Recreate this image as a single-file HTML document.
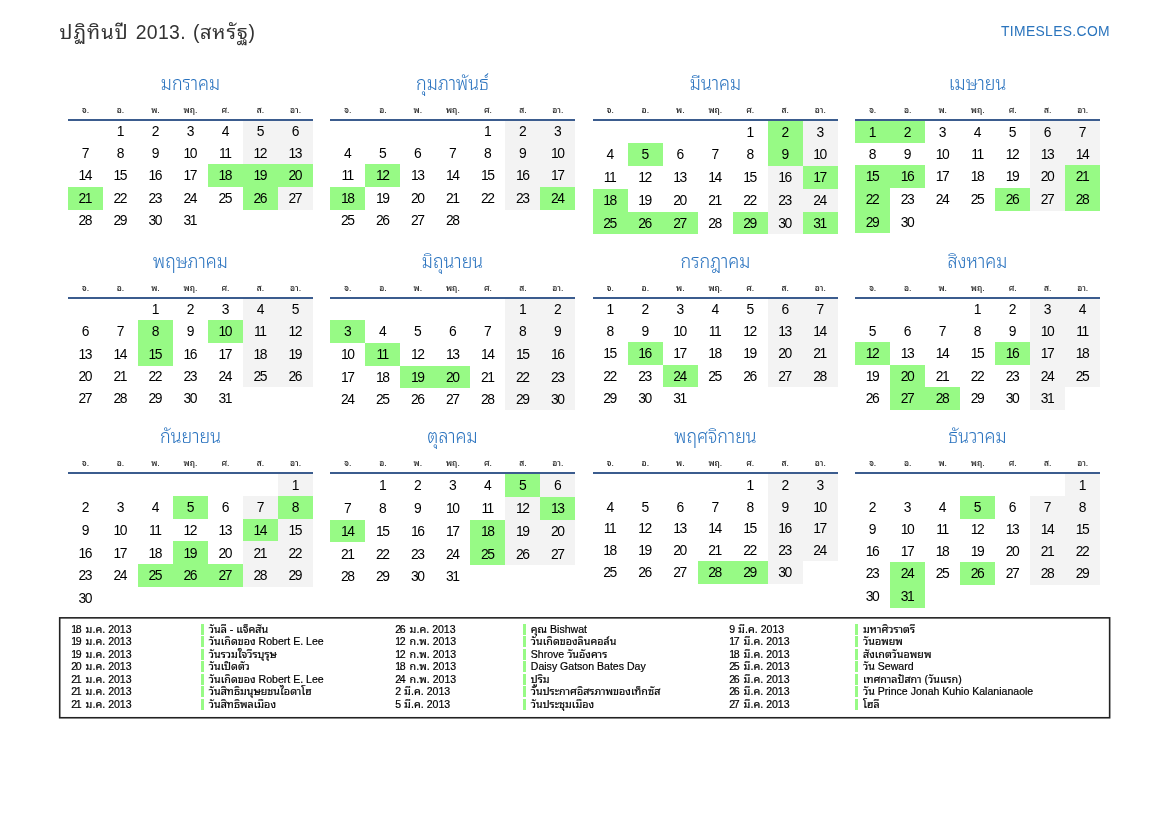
<!DOCTYPE html><html lang="th"><head><meta charset="utf-8"><title>ปฏิทินปี 2013 (สหรัฐ)</title><style>
*{margin:0;padding:0;box-sizing:border-box}
html,body{width:1169px;height:827px;background:#fff;overflow:hidden}
body{position:relative;font-family:"Liberation Sans","Noto Sans Thai Looped","Loma",sans-serif;color:#000}
.abs{position:absolute}
.t{font-weight:300}
#title{left:59.6px;top:17.8px;font-size:19.44px;line-height:28px;color:#333;white-space:nowrap;letter-spacing:.35px;word-spacing:1.3px}
#title .t{font-size:20px;letter-spacing:1.0px;line-height:0;font-weight:400}
#site{right:59px;top:23px;font-size:13.89px;line-height:16px;color:#2a74bd;letter-spacing:.35px;white-space:nowrap}
.mt{width:245px;text-align:center;font-size:20px;line-height:30px;height:30px;color:#2771be;white-space:nowrap;font-weight:340;transform:scaleX(.895)}
.wd{width:35px;text-align:center;font-size:8.6px;line-height:12px;height:12px;color:#222;white-space:nowrap;font-weight:500}
.ln{height:2px;width:245px;background:#3b5c8e}
.d{width:35px;text-align:center;font-size:13.89px;letter-spacing:-1.5px;text-indent:-1.5px;color:#000}
.we{background:#f3f3f3}
.h{background:#97fa85}
#box{left:59px;top:617px;width:1051.5px;height:101.6px;border:1.5px solid #222}
.ev{font-size:10.55px;line-height:12.47px;height:12.47px;white-space:nowrap;color:#000;-webkit-text-stroke:.2px #000}
.ev .t{font-size:10.75px;font-weight:400;line-height:0}
.ev .n{letter-spacing:-1.5px;margin-right:2.6px}
.bar{width:3px;height:11.3px;background:#97fa85}
</style></head><body>
<div id="title" class="abs"><span class="t">ปฏิทินปี</span> 2013. (<span class="t" style="letter-spacing:.9px">สหรัฐ</span>)</div>
<div id="site" class="abs">TIMESLES.COM</div>
<div class="abs mt" style="left:68px;top:67.8px">มกราคม</div>
<div class="abs wd" style="left:68.0px;top:104.0px">จ.</div>
<div class="abs wd" style="left:103.0px;top:104.0px">อ.</div>
<div class="abs wd" style="left:138.0px;top:104.0px">พ.</div>
<div class="abs wd" style="left:173.0px;top:104.0px">พฤ.</div>
<div class="abs wd" style="left:208.0px;top:104.0px">ศ.</div>
<div class="abs wd" style="left:243.0px;top:104.0px">ส.</div>
<div class="abs wd" style="left:278.0px;top:104.0px">อา.</div>
<div class="d abs" style="left:103.0px;top:120px;height:22px;line-height:23.3px">1</div>
<div class="d abs" style="left:138.0px;top:120px;height:22px;line-height:23.3px">2</div>
<div class="d abs" style="left:173.0px;top:120px;height:22px;line-height:23.3px">3</div>
<div class="d abs" style="left:208.0px;top:120px;height:22px;line-height:23.3px">4</div>
<div class="d abs we" style="left:243.0px;top:120px;height:22px;line-height:23.3px">5</div>
<div class="d abs we" style="left:278.0px;top:120px;height:22px;line-height:23.3px">6</div>
<div class="d abs" style="left:68.0px;top:142px;height:22px;line-height:22.9px">7</div>
<div class="d abs" style="left:103.0px;top:142px;height:22px;line-height:22.9px">8</div>
<div class="d abs" style="left:138.0px;top:142px;height:22px;line-height:22.9px">9</div>
<div class="d abs" style="left:173.0px;top:142px;height:22px;line-height:22.9px">10</div>
<div class="d abs" style="left:208.0px;top:142px;height:22px;line-height:22.9px">11</div>
<div class="d abs we" style="left:243.0px;top:142px;height:22px;line-height:22.9px">12</div>
<div class="d abs we" style="left:278.0px;top:142px;height:22px;line-height:22.9px">13</div>
<div class="d abs" style="left:68.0px;top:164px;height:23px;line-height:23.5px">14</div>
<div class="d abs" style="left:103.0px;top:164px;height:23px;line-height:23.5px">15</div>
<div class="d abs" style="left:138.0px;top:164px;height:23px;line-height:23.5px">16</div>
<div class="d abs" style="left:173.0px;top:164px;height:23px;line-height:23.5px">17</div>
<div class="d abs h" style="left:208.0px;top:164px;height:23px;line-height:23.5px">18</div>
<div class="d abs h" style="left:243.0px;top:164px;height:23px;line-height:23.5px">19</div>
<div class="d abs h" style="left:278.0px;top:164px;height:23px;line-height:23.5px">20</div>
<div class="d abs h" style="left:68.0px;top:187px;height:23px;line-height:23.0px">21</div>
<div class="d abs" style="left:103.0px;top:187px;height:23px;line-height:23.0px">22</div>
<div class="d abs" style="left:138.0px;top:187px;height:23px;line-height:23.0px">23</div>
<div class="d abs" style="left:173.0px;top:187px;height:23px;line-height:23.0px">24</div>
<div class="d abs" style="left:208.0px;top:187px;height:23px;line-height:23.0px">25</div>
<div class="d abs h" style="left:243.0px;top:187px;height:23px;line-height:23.0px">26</div>
<div class="d abs we" style="left:278.0px;top:187px;height:23px;line-height:23.0px">27</div>
<div class="d abs" style="left:68.0px;top:210px;height:21px;line-height:21.5px">28</div>
<div class="d abs" style="left:103.0px;top:210px;height:21px;line-height:21.5px">29</div>
<div class="d abs" style="left:138.0px;top:210px;height:21px;line-height:21.5px">30</div>
<div class="d abs" style="left:173.0px;top:210px;height:21px;line-height:21.5px">31</div>
<div class="abs ln" style="left:68px;top:119px"></div>
<div class="abs mt" style="left:330.4px;top:67.8px">กุมภาพันธ์</div>
<div class="abs wd" style="left:330.4px;top:104.0px">จ.</div>
<div class="abs wd" style="left:365.4px;top:104.0px">อ.</div>
<div class="abs wd" style="left:400.4px;top:104.0px">พ.</div>
<div class="abs wd" style="left:435.4px;top:104.0px">พฤ.</div>
<div class="abs wd" style="left:470.4px;top:104.0px">ศ.</div>
<div class="abs wd" style="left:505.4px;top:104.0px">ส.</div>
<div class="abs wd" style="left:540.4px;top:104.0px">อา.</div>
<div class="d abs" style="left:470.4px;top:120px;height:22px;line-height:23.3px">1</div>
<div class="d abs we" style="left:505.4px;top:120px;height:22px;line-height:23.3px">2</div>
<div class="d abs we" style="left:540.4px;top:120px;height:22px;line-height:23.3px">3</div>
<div class="d abs" style="left:330.4px;top:142px;height:22px;line-height:22.9px">4</div>
<div class="d abs" style="left:365.4px;top:142px;height:22px;line-height:22.9px">5</div>
<div class="d abs" style="left:400.4px;top:142px;height:22px;line-height:22.9px">6</div>
<div class="d abs" style="left:435.4px;top:142px;height:22px;line-height:22.9px">7</div>
<div class="d abs" style="left:470.4px;top:142px;height:22px;line-height:22.9px">8</div>
<div class="d abs we" style="left:505.4px;top:142px;height:22px;line-height:22.9px">9</div>
<div class="d abs we" style="left:540.4px;top:142px;height:22px;line-height:22.9px">10</div>
<div class="d abs" style="left:330.4px;top:164px;height:23px;line-height:23.5px">11</div>
<div class="d abs h" style="left:365.4px;top:164px;height:23px;line-height:23.5px">12</div>
<div class="d abs" style="left:400.4px;top:164px;height:23px;line-height:23.5px">13</div>
<div class="d abs" style="left:435.4px;top:164px;height:23px;line-height:23.5px">14</div>
<div class="d abs" style="left:470.4px;top:164px;height:23px;line-height:23.5px">15</div>
<div class="d abs we" style="left:505.4px;top:164px;height:23px;line-height:23.5px">16</div>
<div class="d abs we" style="left:540.4px;top:164px;height:23px;line-height:23.5px">17</div>
<div class="d abs h" style="left:330.4px;top:187px;height:23px;line-height:23.0px">18</div>
<div class="d abs" style="left:365.4px;top:187px;height:23px;line-height:23.0px">19</div>
<div class="d abs" style="left:400.4px;top:187px;height:23px;line-height:23.0px">20</div>
<div class="d abs" style="left:435.4px;top:187px;height:23px;line-height:23.0px">21</div>
<div class="d abs" style="left:470.4px;top:187px;height:23px;line-height:23.0px">22</div>
<div class="d abs we" style="left:505.4px;top:187px;height:23px;line-height:23.0px">23</div>
<div class="d abs h" style="left:540.4px;top:187px;height:23px;line-height:23.0px">24</div>
<div class="d abs" style="left:330.4px;top:210px;height:21px;line-height:21.5px">25</div>
<div class="d abs" style="left:365.4px;top:210px;height:21px;line-height:21.5px">26</div>
<div class="d abs" style="left:400.4px;top:210px;height:21px;line-height:21.5px">27</div>
<div class="d abs" style="left:435.4px;top:210px;height:21px;line-height:21.5px">28</div>
<div class="abs ln" style="left:330.4px;top:119px"></div>
<div class="abs mt" style="left:592.8px;top:67.8px">มีนาคม</div>
<div class="abs wd" style="left:592.8px;top:104.0px">จ.</div>
<div class="abs wd" style="left:627.8px;top:104.0px">อ.</div>
<div class="abs wd" style="left:662.8px;top:104.0px">พ.</div>
<div class="abs wd" style="left:697.8px;top:104.0px">พฤ.</div>
<div class="abs wd" style="left:732.8px;top:104.0px">ศ.</div>
<div class="abs wd" style="left:767.8px;top:104.0px">ส.</div>
<div class="abs wd" style="left:802.8px;top:104.0px">อา.</div>
<div class="d abs" style="left:732.8px;top:120px;height:23px;line-height:24.2px">1</div>
<div class="d abs h" style="left:767.8px;top:120px;height:23px;line-height:24.2px">2</div>
<div class="d abs we" style="left:802.8px;top:120px;height:23px;line-height:24.2px">3</div>
<div class="d abs" style="left:592.8px;top:143px;height:23px;line-height:23.8px">4</div>
<div class="d abs h" style="left:627.8px;top:143px;height:23px;line-height:23.8px">5</div>
<div class="d abs" style="left:662.8px;top:143px;height:23px;line-height:23.8px">6</div>
<div class="d abs" style="left:697.8px;top:143px;height:23px;line-height:23.8px">7</div>
<div class="d abs" style="left:732.8px;top:143px;height:23px;line-height:23.8px">8</div>
<div class="d abs h" style="left:767.8px;top:143px;height:23px;line-height:23.8px">9</div>
<div class="d abs we" style="left:802.8px;top:143px;height:23px;line-height:23.8px">10</div>
<div class="d abs" style="left:592.8px;top:166px;height:23px;line-height:23.2px">11</div>
<div class="d abs" style="left:627.8px;top:166px;height:23px;line-height:23.2px">12</div>
<div class="d abs" style="left:662.8px;top:166px;height:23px;line-height:23.2px">13</div>
<div class="d abs" style="left:697.8px;top:166px;height:23px;line-height:23.2px">14</div>
<div class="d abs" style="left:732.8px;top:166px;height:23px;line-height:23.2px">15</div>
<div class="d abs we" style="left:767.8px;top:166px;height:23px;line-height:23.2px">16</div>
<div class="d abs h" style="left:802.8px;top:166px;height:23px;line-height:23.2px">17</div>
<div class="d abs h" style="left:592.8px;top:189px;height:23px;line-height:22.8px">18</div>
<div class="d abs" style="left:627.8px;top:189px;height:23px;line-height:22.8px">19</div>
<div class="d abs" style="left:662.8px;top:189px;height:23px;line-height:22.8px">20</div>
<div class="d abs" style="left:697.8px;top:189px;height:23px;line-height:22.8px">21</div>
<div class="d abs" style="left:732.8px;top:189px;height:23px;line-height:22.8px">22</div>
<div class="d abs we" style="left:767.8px;top:189px;height:23px;line-height:22.8px">23</div>
<div class="d abs we" style="left:802.8px;top:189px;height:23px;line-height:22.8px">24</div>
<div class="d abs h" style="left:592.8px;top:212px;height:22px;line-height:22.2px">25</div>
<div class="d abs h" style="left:627.8px;top:212px;height:22px;line-height:22.2px">26</div>
<div class="d abs h" style="left:662.8px;top:212px;height:22px;line-height:22.2px">27</div>
<div class="d abs" style="left:697.8px;top:212px;height:22px;line-height:22.2px">28</div>
<div class="d abs h" style="left:732.8px;top:212px;height:22px;line-height:22.2px">29</div>
<div class="d abs we" style="left:767.8px;top:212px;height:22px;line-height:22.2px">30</div>
<div class="d abs h" style="left:802.8px;top:212px;height:22px;line-height:22.2px">31</div>
<div class="abs ln" style="left:592.8px;top:119px"></div>
<div class="abs mt" style="left:855.2px;top:67.8px">เมษายน</div>
<div class="abs wd" style="left:855.2px;top:104.0px">จ.</div>
<div class="abs wd" style="left:890.2px;top:104.0px">อ.</div>
<div class="abs wd" style="left:925.2px;top:104.0px">พ.</div>
<div class="abs wd" style="left:960.2px;top:104.0px">พฤ.</div>
<div class="abs wd" style="left:995.2px;top:104.0px">ศ.</div>
<div class="abs wd" style="left:1030.2px;top:104.0px">ส.</div>
<div class="abs wd" style="left:1065.2px;top:104.0px">อา.</div>
<div class="d abs h" style="left:855.2px;top:120px;height:23px;line-height:24.2px">1</div>
<div class="d abs h" style="left:890.2px;top:120px;height:23px;line-height:24.2px">2</div>
<div class="d abs" style="left:925.2px;top:120px;height:23px;line-height:24.2px">3</div>
<div class="d abs" style="left:960.2px;top:120px;height:23px;line-height:24.2px">4</div>
<div class="d abs" style="left:995.2px;top:120px;height:23px;line-height:24.2px">5</div>
<div class="d abs we" style="left:1030.2px;top:120px;height:23px;line-height:24.2px">6</div>
<div class="d abs we" style="left:1065.2px;top:120px;height:23px;line-height:24.2px">7</div>
<div class="d abs" style="left:855.2px;top:143px;height:22px;line-height:22.8px">8</div>
<div class="d abs" style="left:890.2px;top:143px;height:22px;line-height:22.8px">9</div>
<div class="d abs" style="left:925.2px;top:143px;height:22px;line-height:22.8px">10</div>
<div class="d abs" style="left:960.2px;top:143px;height:22px;line-height:22.8px">11</div>
<div class="d abs" style="left:995.2px;top:143px;height:22px;line-height:22.8px">12</div>
<div class="d abs we" style="left:1030.2px;top:143px;height:22px;line-height:22.8px">13</div>
<div class="d abs we" style="left:1065.2px;top:143px;height:22px;line-height:22.8px">14</div>
<div class="d abs h" style="left:855.2px;top:165px;height:23px;line-height:23.4px">15</div>
<div class="d abs h" style="left:890.2px;top:165px;height:23px;line-height:23.4px">16</div>
<div class="d abs" style="left:925.2px;top:165px;height:23px;line-height:23.4px">17</div>
<div class="d abs" style="left:960.2px;top:165px;height:23px;line-height:23.4px">18</div>
<div class="d abs" style="left:995.2px;top:165px;height:23px;line-height:23.4px">19</div>
<div class="d abs we" style="left:1030.2px;top:165px;height:23px;line-height:23.4px">20</div>
<div class="d abs h" style="left:1065.2px;top:165px;height:23px;line-height:23.4px">21</div>
<div class="d abs h" style="left:855.2px;top:188px;height:23px;line-height:22.9px">22</div>
<div class="d abs" style="left:890.2px;top:188px;height:23px;line-height:22.9px">23</div>
<div class="d abs" style="left:925.2px;top:188px;height:23px;line-height:22.9px">24</div>
<div class="d abs" style="left:960.2px;top:188px;height:23px;line-height:22.9px">25</div>
<div class="d abs h" style="left:995.2px;top:188px;height:23px;line-height:22.9px">26</div>
<div class="d abs we" style="left:1030.2px;top:188px;height:23px;line-height:22.9px">27</div>
<div class="d abs h" style="left:1065.2px;top:188px;height:23px;line-height:22.9px">28</div>
<div class="d abs h" style="left:855.2px;top:211px;height:22px;line-height:22.4px">29</div>
<div class="d abs" style="left:890.2px;top:211px;height:22px;line-height:22.4px">30</div>
<div class="abs ln" style="left:855.2px;top:119px"></div>
<div class="abs mt" style="left:68px;top:245.6px">พฤษภาคม</div>
<div class="abs wd" style="left:68.0px;top:281.8px">จ.</div>
<div class="abs wd" style="left:103.0px;top:281.8px">อ.</div>
<div class="abs wd" style="left:138.0px;top:281.8px">พ.</div>
<div class="abs wd" style="left:173.0px;top:281.8px">พฤ.</div>
<div class="abs wd" style="left:208.0px;top:281.8px">ศ.</div>
<div class="abs wd" style="left:243.0px;top:281.8px">ส.</div>
<div class="abs wd" style="left:278.0px;top:281.8px">อา.</div>
<div class="d abs" style="left:138.0px;top:298px;height:22px;line-height:22.7px">1</div>
<div class="d abs" style="left:173.0px;top:298px;height:22px;line-height:22.7px">2</div>
<div class="d abs" style="left:208.0px;top:298px;height:22px;line-height:22.7px">3</div>
<div class="d abs we" style="left:243.0px;top:298px;height:22px;line-height:22.7px">4</div>
<div class="d abs we" style="left:278.0px;top:298px;height:22px;line-height:22.7px">5</div>
<div class="d abs" style="left:68.0px;top:320px;height:23px;line-height:23.2px">6</div>
<div class="d abs" style="left:103.0px;top:320px;height:23px;line-height:23.2px">7</div>
<div class="d abs h" style="left:138.0px;top:320px;height:23px;line-height:23.2px">8</div>
<div class="d abs" style="left:173.0px;top:320px;height:23px;line-height:23.2px">9</div>
<div class="d abs h" style="left:208.0px;top:320px;height:23px;line-height:23.2px">10</div>
<div class="d abs we" style="left:243.0px;top:320px;height:23px;line-height:23.2px">11</div>
<div class="d abs we" style="left:278.0px;top:320px;height:23px;line-height:23.2px">12</div>
<div class="d abs" style="left:68.0px;top:343px;height:23px;line-height:22.8px">13</div>
<div class="d abs" style="left:103.0px;top:343px;height:23px;line-height:22.8px">14</div>
<div class="d abs h" style="left:138.0px;top:343px;height:23px;line-height:22.8px">15</div>
<div class="d abs" style="left:173.0px;top:343px;height:23px;line-height:22.8px">16</div>
<div class="d abs" style="left:208.0px;top:343px;height:23px;line-height:22.8px">17</div>
<div class="d abs we" style="left:243.0px;top:343px;height:23px;line-height:22.8px">18</div>
<div class="d abs we" style="left:278.0px;top:343px;height:23px;line-height:22.8px">19</div>
<div class="d abs" style="left:68.0px;top:366px;height:21px;line-height:21.3px">20</div>
<div class="d abs" style="left:103.0px;top:366px;height:21px;line-height:21.3px">21</div>
<div class="d abs" style="left:138.0px;top:366px;height:21px;line-height:21.3px">22</div>
<div class="d abs" style="left:173.0px;top:366px;height:21px;line-height:21.3px">23</div>
<div class="d abs" style="left:208.0px;top:366px;height:21px;line-height:21.3px">24</div>
<div class="d abs we" style="left:243.0px;top:366px;height:21px;line-height:21.3px">25</div>
<div class="d abs we" style="left:278.0px;top:366px;height:21px;line-height:21.3px">26</div>
<div class="d abs" style="left:68.0px;top:387px;height:22px;line-height:22.9px">27</div>
<div class="d abs" style="left:103.0px;top:387px;height:22px;line-height:22.9px">28</div>
<div class="d abs" style="left:138.0px;top:387px;height:22px;line-height:22.9px">29</div>
<div class="d abs" style="left:173.0px;top:387px;height:22px;line-height:22.9px">30</div>
<div class="d abs" style="left:208.0px;top:387px;height:22px;line-height:22.9px">31</div>
<div class="abs ln" style="left:68px;top:296.8px"></div>
<div class="abs mt" style="left:330.4px;top:245.6px">มิถุนายน</div>
<div class="abs wd" style="left:330.4px;top:281.8px">จ.</div>
<div class="abs wd" style="left:365.4px;top:281.8px">อ.</div>
<div class="abs wd" style="left:400.4px;top:281.8px">พ.</div>
<div class="abs wd" style="left:435.4px;top:281.8px">พฤ.</div>
<div class="abs wd" style="left:470.4px;top:281.8px">ศ.</div>
<div class="abs wd" style="left:505.4px;top:281.8px">ส.</div>
<div class="abs wd" style="left:540.4px;top:281.8px">อา.</div>
<div class="d abs we" style="left:505.4px;top:298px;height:22px;line-height:22.7px">1</div>
<div class="d abs we" style="left:540.4px;top:298px;height:22px;line-height:22.7px">2</div>
<div class="d abs h" style="left:330.4px;top:320px;height:23px;line-height:23.2px">3</div>
<div class="d abs" style="left:365.4px;top:320px;height:23px;line-height:23.2px">4</div>
<div class="d abs" style="left:400.4px;top:320px;height:23px;line-height:23.2px">5</div>
<div class="d abs" style="left:435.4px;top:320px;height:23px;line-height:23.2px">6</div>
<div class="d abs" style="left:470.4px;top:320px;height:23px;line-height:23.2px">7</div>
<div class="d abs we" style="left:505.4px;top:320px;height:23px;line-height:23.2px">8</div>
<div class="d abs we" style="left:540.4px;top:320px;height:23px;line-height:23.2px">9</div>
<div class="d abs" style="left:330.4px;top:343px;height:23px;line-height:22.8px">10</div>
<div class="d abs h" style="left:365.4px;top:343px;height:23px;line-height:22.8px">11</div>
<div class="d abs" style="left:400.4px;top:343px;height:23px;line-height:22.8px">12</div>
<div class="d abs" style="left:435.4px;top:343px;height:23px;line-height:22.8px">13</div>
<div class="d abs" style="left:470.4px;top:343px;height:23px;line-height:22.8px">14</div>
<div class="d abs we" style="left:505.4px;top:343px;height:23px;line-height:22.8px">15</div>
<div class="d abs we" style="left:540.4px;top:343px;height:23px;line-height:22.8px">16</div>
<div class="d abs" style="left:330.4px;top:366px;height:22px;line-height:22.2px">17</div>
<div class="d abs" style="left:365.4px;top:366px;height:22px;line-height:22.2px">18</div>
<div class="d abs h" style="left:400.4px;top:366px;height:22px;line-height:22.2px">19</div>
<div class="d abs h" style="left:435.4px;top:366px;height:22px;line-height:22.2px">20</div>
<div class="d abs" style="left:470.4px;top:366px;height:22px;line-height:22.2px">21</div>
<div class="d abs we" style="left:505.4px;top:366px;height:22px;line-height:22.2px">22</div>
<div class="d abs we" style="left:540.4px;top:366px;height:22px;line-height:22.2px">23</div>
<div class="d abs" style="left:330.4px;top:388px;height:22px;line-height:22.8px">24</div>
<div class="d abs" style="left:365.4px;top:388px;height:22px;line-height:22.8px">25</div>
<div class="d abs" style="left:400.4px;top:388px;height:22px;line-height:22.8px">26</div>
<div class="d abs" style="left:435.4px;top:388px;height:22px;line-height:22.8px">27</div>
<div class="d abs" style="left:470.4px;top:388px;height:22px;line-height:22.8px">28</div>
<div class="d abs we" style="left:505.4px;top:388px;height:22px;line-height:22.8px">29</div>
<div class="d abs we" style="left:540.4px;top:388px;height:22px;line-height:22.8px">30</div>
<div class="abs ln" style="left:330.4px;top:296.8px"></div>
<div class="abs mt" style="left:592.8px;top:245.6px">กรกฎาคม</div>
<div class="abs wd" style="left:592.8px;top:281.8px">จ.</div>
<div class="abs wd" style="left:627.8px;top:281.8px">อ.</div>
<div class="abs wd" style="left:662.8px;top:281.8px">พ.</div>
<div class="abs wd" style="left:697.8px;top:281.8px">พฤ.</div>
<div class="abs wd" style="left:732.8px;top:281.8px">ศ.</div>
<div class="abs wd" style="left:767.8px;top:281.8px">ส.</div>
<div class="abs wd" style="left:802.8px;top:281.8px">อา.</div>
<div class="d abs" style="left:592.8px;top:298px;height:22px;line-height:22.7px">1</div>
<div class="d abs" style="left:627.8px;top:298px;height:22px;line-height:22.7px">2</div>
<div class="d abs" style="left:662.8px;top:298px;height:22px;line-height:22.7px">3</div>
<div class="d abs" style="left:697.8px;top:298px;height:22px;line-height:22.7px">4</div>
<div class="d abs" style="left:732.8px;top:298px;height:22px;line-height:22.7px">5</div>
<div class="d abs we" style="left:767.8px;top:298px;height:22px;line-height:22.7px">6</div>
<div class="d abs we" style="left:802.8px;top:298px;height:22px;line-height:22.7px">7</div>
<div class="d abs" style="left:592.8px;top:320px;height:22px;line-height:22.3px">8</div>
<div class="d abs" style="left:627.8px;top:320px;height:22px;line-height:22.3px">9</div>
<div class="d abs" style="left:662.8px;top:320px;height:22px;line-height:22.3px">10</div>
<div class="d abs" style="left:697.8px;top:320px;height:22px;line-height:22.3px">11</div>
<div class="d abs" style="left:732.8px;top:320px;height:22px;line-height:22.3px">12</div>
<div class="d abs we" style="left:767.8px;top:320px;height:22px;line-height:22.3px">13</div>
<div class="d abs we" style="left:802.8px;top:320px;height:22px;line-height:22.3px">14</div>
<div class="d abs" style="left:592.8px;top:342px;height:23px;line-height:22.9px">15</div>
<div class="d abs h" style="left:627.8px;top:342px;height:23px;line-height:22.9px">16</div>
<div class="d abs" style="left:662.8px;top:342px;height:23px;line-height:22.9px">17</div>
<div class="d abs" style="left:697.8px;top:342px;height:23px;line-height:22.9px">18</div>
<div class="d abs" style="left:732.8px;top:342px;height:23px;line-height:22.9px">19</div>
<div class="d abs we" style="left:767.8px;top:342px;height:23px;line-height:22.9px">20</div>
<div class="d abs we" style="left:802.8px;top:342px;height:23px;line-height:22.9px">21</div>
<div class="d abs" style="left:592.8px;top:365px;height:22px;line-height:22.4px">22</div>
<div class="d abs" style="left:627.8px;top:365px;height:22px;line-height:22.4px">23</div>
<div class="d abs h" style="left:662.8px;top:365px;height:22px;line-height:22.4px">24</div>
<div class="d abs" style="left:697.8px;top:365px;height:22px;line-height:22.4px">25</div>
<div class="d abs" style="left:732.8px;top:365px;height:22px;line-height:22.4px">26</div>
<div class="d abs we" style="left:767.8px;top:365px;height:22px;line-height:22.4px">27</div>
<div class="d abs we" style="left:802.8px;top:365px;height:22px;line-height:22.4px">28</div>
<div class="d abs" style="left:592.8px;top:387px;height:22px;line-height:22.9px">29</div>
<div class="d abs" style="left:627.8px;top:387px;height:22px;line-height:22.9px">30</div>
<div class="d abs" style="left:662.8px;top:387px;height:22px;line-height:22.9px">31</div>
<div class="abs ln" style="left:592.8px;top:296.8px"></div>
<div class="abs mt" style="left:855.2px;top:245.6px">สิงหาคม</div>
<div class="abs wd" style="left:855.2px;top:281.8px">จ.</div>
<div class="abs wd" style="left:890.2px;top:281.8px">อ.</div>
<div class="abs wd" style="left:925.2px;top:281.8px">พ.</div>
<div class="abs wd" style="left:960.2px;top:281.8px">พฤ.</div>
<div class="abs wd" style="left:995.2px;top:281.8px">ศ.</div>
<div class="abs wd" style="left:1030.2px;top:281.8px">ส.</div>
<div class="abs wd" style="left:1065.2px;top:281.8px">อา.</div>
<div class="d abs" style="left:960.2px;top:298px;height:22px;line-height:22.7px">1</div>
<div class="d abs" style="left:995.2px;top:298px;height:22px;line-height:22.7px">2</div>
<div class="d abs we" style="left:1030.2px;top:298px;height:22px;line-height:22.7px">3</div>
<div class="d abs we" style="left:1065.2px;top:298px;height:22px;line-height:22.7px">4</div>
<div class="d abs" style="left:855.2px;top:320px;height:22px;line-height:22.3px">5</div>
<div class="d abs" style="left:890.2px;top:320px;height:22px;line-height:22.3px">6</div>
<div class="d abs" style="left:925.2px;top:320px;height:22px;line-height:22.3px">7</div>
<div class="d abs" style="left:960.2px;top:320px;height:22px;line-height:22.3px">8</div>
<div class="d abs" style="left:995.2px;top:320px;height:22px;line-height:22.3px">9</div>
<div class="d abs we" style="left:1030.2px;top:320px;height:22px;line-height:22.3px">10</div>
<div class="d abs we" style="left:1065.2px;top:320px;height:22px;line-height:22.3px">11</div>
<div class="d abs h" style="left:855.2px;top:342px;height:23px;line-height:22.9px">12</div>
<div class="d abs" style="left:890.2px;top:342px;height:23px;line-height:22.9px">13</div>
<div class="d abs" style="left:925.2px;top:342px;height:23px;line-height:22.9px">14</div>
<div class="d abs" style="left:960.2px;top:342px;height:23px;line-height:22.9px">15</div>
<div class="d abs h" style="left:995.2px;top:342px;height:23px;line-height:22.9px">16</div>
<div class="d abs we" style="left:1030.2px;top:342px;height:23px;line-height:22.9px">17</div>
<div class="d abs we" style="left:1065.2px;top:342px;height:23px;line-height:22.9px">18</div>
<div class="d abs" style="left:855.2px;top:365px;height:22px;line-height:22.4px">19</div>
<div class="d abs h" style="left:890.2px;top:365px;height:22px;line-height:22.4px">20</div>
<div class="d abs" style="left:925.2px;top:365px;height:22px;line-height:22.4px">21</div>
<div class="d abs" style="left:960.2px;top:365px;height:22px;line-height:22.4px">22</div>
<div class="d abs" style="left:995.2px;top:365px;height:22px;line-height:22.4px">23</div>
<div class="d abs we" style="left:1030.2px;top:365px;height:22px;line-height:22.4px">24</div>
<div class="d abs we" style="left:1065.2px;top:365px;height:22px;line-height:22.4px">25</div>
<div class="d abs" style="left:855.2px;top:387px;height:23px;line-height:23.9px">26</div>
<div class="d abs h" style="left:890.2px;top:387px;height:23px;line-height:23.9px">27</div>
<div class="d abs h" style="left:925.2px;top:387px;height:23px;line-height:23.9px">28</div>
<div class="d abs" style="left:960.2px;top:387px;height:23px;line-height:23.9px">29</div>
<div class="d abs" style="left:995.2px;top:387px;height:23px;line-height:23.9px">30</div>
<div class="d abs we" style="left:1030.2px;top:387px;height:23px;line-height:23.9px">31</div>
<div class="abs ln" style="left:855.2px;top:296.8px"></div>
<div class="abs mt" style="left:68px;top:420.9px">กันยายน</div>
<div class="abs wd" style="left:68.0px;top:457.1px">จ.</div>
<div class="abs wd" style="left:103.0px;top:457.1px">อ.</div>
<div class="abs wd" style="left:138.0px;top:457.1px">พ.</div>
<div class="abs wd" style="left:173.0px;top:457.1px">พฤ.</div>
<div class="abs wd" style="left:208.0px;top:457.1px">ศ.</div>
<div class="abs wd" style="left:243.0px;top:457.1px">ส.</div>
<div class="abs wd" style="left:278.0px;top:457.1px">อา.</div>
<div class="d abs we" style="left:278.0px;top:474px;height:22px;line-height:22.5px">1</div>
<div class="d abs" style="left:68.0px;top:496px;height:23px;line-height:23.1px">2</div>
<div class="d abs" style="left:103.0px;top:496px;height:23px;line-height:23.1px">3</div>
<div class="d abs" style="left:138.0px;top:496px;height:23px;line-height:23.1px">4</div>
<div class="d abs h" style="left:173.0px;top:496px;height:23px;line-height:23.1px">5</div>
<div class="d abs" style="left:208.0px;top:496px;height:23px;line-height:23.1px">6</div>
<div class="d abs we" style="left:243.0px;top:496px;height:23px;line-height:23.1px">7</div>
<div class="d abs h" style="left:278.0px;top:496px;height:23px;line-height:23.1px">8</div>
<div class="d abs" style="left:68.0px;top:519px;height:22px;line-height:22.6px">9</div>
<div class="d abs" style="left:103.0px;top:519px;height:22px;line-height:22.6px">10</div>
<div class="d abs" style="left:138.0px;top:519px;height:22px;line-height:22.6px">11</div>
<div class="d abs" style="left:173.0px;top:519px;height:22px;line-height:22.6px">12</div>
<div class="d abs" style="left:208.0px;top:519px;height:22px;line-height:22.6px">13</div>
<div class="d abs h" style="left:243.0px;top:519px;height:22px;line-height:22.6px">14</div>
<div class="d abs we" style="left:278.0px;top:519px;height:22px;line-height:22.6px">15</div>
<div class="d abs" style="left:68.0px;top:541px;height:23px;line-height:24.1px">16</div>
<div class="d abs" style="left:103.0px;top:541px;height:23px;line-height:24.1px">17</div>
<div class="d abs" style="left:138.0px;top:541px;height:23px;line-height:24.1px">18</div>
<div class="d abs h" style="left:173.0px;top:541px;height:23px;line-height:24.1px">19</div>
<div class="d abs" style="left:208.0px;top:541px;height:23px;line-height:24.1px">20</div>
<div class="d abs we" style="left:243.0px;top:541px;height:23px;line-height:24.1px">21</div>
<div class="d abs we" style="left:278.0px;top:541px;height:23px;line-height:24.1px">22</div>
<div class="d abs" style="left:68.0px;top:564px;height:23px;line-height:23.6px">23</div>
<div class="d abs" style="left:103.0px;top:564px;height:23px;line-height:23.6px">24</div>
<div class="d abs h" style="left:138.0px;top:564px;height:23px;line-height:23.6px">25</div>
<div class="d abs h" style="left:173.0px;top:564px;height:23px;line-height:23.6px">26</div>
<div class="d abs h" style="left:208.0px;top:564px;height:23px;line-height:23.6px">27</div>
<div class="d abs we" style="left:243.0px;top:564px;height:23px;line-height:23.6px">28</div>
<div class="d abs we" style="left:278.0px;top:564px;height:23px;line-height:23.6px">29</div>
<div class="d abs" style="left:68.0px;top:587px;height:22px;line-height:22.1px">30</div>
<div class="abs ln" style="left:68px;top:472.1px"></div>
<div class="abs mt" style="left:330.4px;top:420.9px">ตุลาคม</div>
<div class="abs wd" style="left:330.4px;top:457.1px">จ.</div>
<div class="abs wd" style="left:365.4px;top:457.1px">อ.</div>
<div class="abs wd" style="left:400.4px;top:457.1px">พ.</div>
<div class="abs wd" style="left:435.4px;top:457.1px">พฤ.</div>
<div class="abs wd" style="left:470.4px;top:457.1px">ศ.</div>
<div class="abs wd" style="left:505.4px;top:457.1px">ส.</div>
<div class="abs wd" style="left:540.4px;top:457.1px">อา.</div>
<div class="d abs" style="left:365.4px;top:474px;height:23px;line-height:23.5px">1</div>
<div class="d abs" style="left:400.4px;top:474px;height:23px;line-height:23.5px">2</div>
<div class="d abs" style="left:435.4px;top:474px;height:23px;line-height:23.5px">3</div>
<div class="d abs" style="left:470.4px;top:474px;height:23px;line-height:23.5px">4</div>
<div class="d abs h" style="left:505.4px;top:474px;height:23px;line-height:23.5px">5</div>
<div class="d abs we" style="left:540.4px;top:474px;height:23px;line-height:23.5px">6</div>
<div class="d abs" style="left:330.4px;top:497px;height:23px;line-height:23.0px">7</div>
<div class="d abs" style="left:365.4px;top:497px;height:23px;line-height:23.0px">8</div>
<div class="d abs" style="left:400.4px;top:497px;height:23px;line-height:23.0px">9</div>
<div class="d abs" style="left:435.4px;top:497px;height:23px;line-height:23.0px">10</div>
<div class="d abs" style="left:470.4px;top:497px;height:23px;line-height:23.0px">11</div>
<div class="d abs we" style="left:505.4px;top:497px;height:23px;line-height:23.0px">12</div>
<div class="d abs h" style="left:540.4px;top:497px;height:23px;line-height:23.0px">13</div>
<div class="d abs h" style="left:330.4px;top:520px;height:22px;line-height:22.5px">14</div>
<div class="d abs" style="left:365.4px;top:520px;height:22px;line-height:22.5px">15</div>
<div class="d abs" style="left:400.4px;top:520px;height:22px;line-height:22.5px">16</div>
<div class="d abs" style="left:435.4px;top:520px;height:22px;line-height:22.5px">17</div>
<div class="d abs h" style="left:470.4px;top:520px;height:22px;line-height:22.5px">18</div>
<div class="d abs we" style="left:505.4px;top:520px;height:22px;line-height:22.5px">19</div>
<div class="d abs we" style="left:540.4px;top:520px;height:22px;line-height:22.5px">20</div>
<div class="d abs" style="left:330.4px;top:542px;height:23px;line-height:24.0px">21</div>
<div class="d abs" style="left:365.4px;top:542px;height:23px;line-height:24.0px">22</div>
<div class="d abs" style="left:400.4px;top:542px;height:23px;line-height:24.0px">23</div>
<div class="d abs" style="left:435.4px;top:542px;height:23px;line-height:24.0px">24</div>
<div class="d abs h" style="left:470.4px;top:542px;height:23px;line-height:24.0px">25</div>
<div class="d abs we" style="left:505.4px;top:542px;height:23px;line-height:24.0px">26</div>
<div class="d abs we" style="left:540.4px;top:542px;height:23px;line-height:24.0px">27</div>
<div class="d abs" style="left:330.4px;top:565px;height:22px;line-height:22.5px">28</div>
<div class="d abs" style="left:365.4px;top:565px;height:22px;line-height:22.5px">29</div>
<div class="d abs" style="left:400.4px;top:565px;height:22px;line-height:22.5px">30</div>
<div class="d abs" style="left:435.4px;top:565px;height:22px;line-height:22.5px">31</div>
<div class="abs ln" style="left:330.4px;top:472.1px"></div>
<div class="abs mt" style="left:592.8px;top:420.9px">พฤศจิกายน</div>
<div class="abs wd" style="left:592.8px;top:457.1px">จ.</div>
<div class="abs wd" style="left:627.8px;top:457.1px">อ.</div>
<div class="abs wd" style="left:662.8px;top:457.1px">พ.</div>
<div class="abs wd" style="left:697.8px;top:457.1px">พฤ.</div>
<div class="abs wd" style="left:732.8px;top:457.1px">ศ.</div>
<div class="abs wd" style="left:767.8px;top:457.1px">ส.</div>
<div class="abs wd" style="left:802.8px;top:457.1px">อา.</div>
<div class="d abs" style="left:732.8px;top:474px;height:22px;line-height:22.5px">1</div>
<div class="d abs we" style="left:767.8px;top:474px;height:22px;line-height:22.5px">2</div>
<div class="d abs we" style="left:802.8px;top:474px;height:22px;line-height:22.5px">3</div>
<div class="d abs" style="left:592.8px;top:496px;height:22px;line-height:22.1px">4</div>
<div class="d abs" style="left:627.8px;top:496px;height:22px;line-height:22.1px">5</div>
<div class="d abs" style="left:662.8px;top:496px;height:22px;line-height:22.1px">6</div>
<div class="d abs" style="left:697.8px;top:496px;height:22px;line-height:22.1px">7</div>
<div class="d abs" style="left:732.8px;top:496px;height:22px;line-height:22.1px">8</div>
<div class="d abs we" style="left:767.8px;top:496px;height:22px;line-height:22.1px">9</div>
<div class="d abs we" style="left:802.8px;top:496px;height:22px;line-height:22.1px">10</div>
<div class="d abs" style="left:592.8px;top:518px;height:22px;line-height:21.7px">11</div>
<div class="d abs" style="left:627.8px;top:518px;height:22px;line-height:21.7px">12</div>
<div class="d abs" style="left:662.8px;top:518px;height:22px;line-height:21.7px">13</div>
<div class="d abs" style="left:697.8px;top:518px;height:22px;line-height:21.7px">14</div>
<div class="d abs" style="left:732.8px;top:518px;height:22px;line-height:21.7px">15</div>
<div class="d abs we" style="left:767.8px;top:518px;height:22px;line-height:21.7px">16</div>
<div class="d abs we" style="left:802.8px;top:518px;height:22px;line-height:21.7px">17</div>
<div class="d abs" style="left:592.8px;top:540px;height:21px;line-height:21.3px">18</div>
<div class="d abs" style="left:627.8px;top:540px;height:21px;line-height:21.3px">19</div>
<div class="d abs" style="left:662.8px;top:540px;height:21px;line-height:21.3px">20</div>
<div class="d abs" style="left:697.8px;top:540px;height:21px;line-height:21.3px">21</div>
<div class="d abs" style="left:732.8px;top:540px;height:21px;line-height:21.3px">22</div>
<div class="d abs we" style="left:767.8px;top:540px;height:21px;line-height:21.3px">23</div>
<div class="d abs we" style="left:802.8px;top:540px;height:21px;line-height:21.3px">24</div>
<div class="d abs" style="left:592.8px;top:561px;height:23px;line-height:23.8px">25</div>
<div class="d abs" style="left:627.8px;top:561px;height:23px;line-height:23.8px">26</div>
<div class="d abs" style="left:662.8px;top:561px;height:23px;line-height:23.8px">27</div>
<div class="d abs h" style="left:697.8px;top:561px;height:23px;line-height:23.8px">28</div>
<div class="d abs h" style="left:732.8px;top:561px;height:23px;line-height:23.8px">29</div>
<div class="d abs we" style="left:767.8px;top:561px;height:23px;line-height:23.8px">30</div>
<div class="abs ln" style="left:592.8px;top:472.1px"></div>
<div class="abs mt" style="left:855.2px;top:420.9px">ธันวาคม</div>
<div class="abs wd" style="left:855.2px;top:457.1px">จ.</div>
<div class="abs wd" style="left:890.2px;top:457.1px">อ.</div>
<div class="abs wd" style="left:925.2px;top:457.1px">พ.</div>
<div class="abs wd" style="left:960.2px;top:457.1px">พฤ.</div>
<div class="abs wd" style="left:995.2px;top:457.1px">ศ.</div>
<div class="abs wd" style="left:1030.2px;top:457.1px">ส.</div>
<div class="abs wd" style="left:1065.2px;top:457.1px">อา.</div>
<div class="d abs we" style="left:1065.2px;top:474px;height:22px;line-height:22.5px">1</div>
<div class="d abs" style="left:855.2px;top:496px;height:23px;line-height:23.1px">2</div>
<div class="d abs" style="left:890.2px;top:496px;height:23px;line-height:23.1px">3</div>
<div class="d abs" style="left:925.2px;top:496px;height:23px;line-height:23.1px">4</div>
<div class="d abs h" style="left:960.2px;top:496px;height:23px;line-height:23.1px">5</div>
<div class="d abs" style="left:995.2px;top:496px;height:23px;line-height:23.1px">6</div>
<div class="d abs we" style="left:1030.2px;top:496px;height:23px;line-height:23.1px">7</div>
<div class="d abs we" style="left:1065.2px;top:496px;height:23px;line-height:23.1px">8</div>
<div class="d abs" style="left:855.2px;top:519px;height:21px;line-height:21.6px">9</div>
<div class="d abs" style="left:890.2px;top:519px;height:21px;line-height:21.6px">10</div>
<div class="d abs" style="left:925.2px;top:519px;height:21px;line-height:21.6px">11</div>
<div class="d abs" style="left:960.2px;top:519px;height:21px;line-height:21.6px">12</div>
<div class="d abs" style="left:995.2px;top:519px;height:21px;line-height:21.6px">13</div>
<div class="d abs we" style="left:1030.2px;top:519px;height:21px;line-height:21.6px">14</div>
<div class="d abs we" style="left:1065.2px;top:519px;height:21px;line-height:21.6px">15</div>
<div class="d abs" style="left:855.2px;top:540px;height:22px;line-height:23.2px">16</div>
<div class="d abs" style="left:890.2px;top:540px;height:22px;line-height:23.2px">17</div>
<div class="d abs" style="left:925.2px;top:540px;height:22px;line-height:23.2px">18</div>
<div class="d abs" style="left:960.2px;top:540px;height:22px;line-height:23.2px">19</div>
<div class="d abs" style="left:995.2px;top:540px;height:22px;line-height:23.2px">20</div>
<div class="d abs we" style="left:1030.2px;top:540px;height:22px;line-height:23.2px">21</div>
<div class="d abs we" style="left:1065.2px;top:540px;height:22px;line-height:23.2px">22</div>
<div class="d abs" style="left:855.2px;top:562px;height:23px;line-height:23.8px">23</div>
<div class="d abs h" style="left:890.2px;top:562px;height:23px;line-height:23.8px">24</div>
<div class="d abs" style="left:925.2px;top:562px;height:23px;line-height:23.8px">25</div>
<div class="d abs h" style="left:960.2px;top:562px;height:23px;line-height:23.8px">26</div>
<div class="d abs" style="left:995.2px;top:562px;height:23px;line-height:23.8px">27</div>
<div class="d abs we" style="left:1030.2px;top:562px;height:23px;line-height:23.8px">28</div>
<div class="d abs we" style="left:1065.2px;top:562px;height:23px;line-height:23.8px">29</div>
<div class="d abs" style="left:855.2px;top:585px;height:23px;line-height:23.2px">30</div>
<div class="d abs h" style="left:890.2px;top:585px;height:23px;line-height:23.2px">31</div>
<div class="abs ln" style="left:855.2px;top:472.1px"></div>
<svg class="abs" style="left:0;top:600px" width="1169" height="130" viewBox="0 600 1169 130"><rect x="59.7" y="617.85" width="1049.95" height="99.9" fill="none" stroke="#222" stroke-width="1.6"/></svg>
<div class="abs ev" style="left:71.3px;top:622.80px"><span class="n">18</span> <span class="t">ม.ค.</span> 2013</div>
<div class="abs bar" style="left:201px;top:623.70px"></div>
<div class="abs ev" style="left:208.8px;top:622.80px"><span class="t">วันลี</span> - <span class="t">แจ็คสัน</span></div>
<div class="abs ev" style="left:71.3px;top:635.27px"><span class="n">19</span> <span class="t">ม.ค.</span> 2013</div>
<div class="abs bar" style="left:201px;top:636.17px"></div>
<div class="abs ev" style="left:208.8px;top:635.27px"><span class="t">วันเกิดของ</span> Robert E. Lee</div>
<div class="abs ev" style="left:71.3px;top:647.74px"><span class="n">19</span> <span class="t">ม.ค.</span> 2013</div>
<div class="abs bar" style="left:201px;top:648.64px"></div>
<div class="abs ev" style="left:208.8px;top:647.74px"><span class="t">วันรวมใจวีรบุรุษ</span></div>
<div class="abs ev" style="left:71.3px;top:660.21px"><span class="n">20</span> <span class="t">ม.ค.</span> 2013</div>
<div class="abs bar" style="left:201px;top:661.11px"></div>
<div class="abs ev" style="left:208.8px;top:660.21px"><span class="t">วันเปิดตัว</span></div>
<div class="abs ev" style="left:71.3px;top:672.68px"><span class="n">21</span> <span class="t">ม.ค.</span> 2013</div>
<div class="abs bar" style="left:201px;top:673.58px"></div>
<div class="abs ev" style="left:208.8px;top:672.68px"><span class="t">วันเกิดของ</span> Robert E. Lee</div>
<div class="abs ev" style="left:71.3px;top:685.15px"><span class="n">21</span> <span class="t">ม.ค.</span> 2013</div>
<div class="abs bar" style="left:201px;top:686.05px"></div>
<div class="abs ev" style="left:208.8px;top:685.15px"><span class="t">วันสิทธิมนุษยชนไอดาโฮ</span></div>
<div class="abs ev" style="left:71.3px;top:697.62px"><span class="n">21</span> <span class="t">ม.ค.</span> 2013</div>
<div class="abs bar" style="left:201px;top:698.52px"></div>
<div class="abs ev" style="left:208.8px;top:697.62px"><span class="t">วันสิทธิพลเมือง</span></div>
<div class="abs ev" style="left:395.3px;top:622.80px"><span class="n">26</span> <span class="t">ม.ค.</span> 2013</div>
<div class="abs bar" style="left:523px;top:623.70px"></div>
<div class="abs ev" style="left:530.8px;top:622.80px"><span class="t">คุณ</span> Bishwat</div>
<div class="abs ev" style="left:395.3px;top:635.27px"><span class="n">12</span> <span class="t">ก.พ.</span> 2013</div>
<div class="abs bar" style="left:523px;top:636.17px"></div>
<div class="abs ev" style="left:530.8px;top:635.27px"><span class="t">วันเกิดของลินคอล์น</span></div>
<div class="abs ev" style="left:395.3px;top:647.74px"><span class="n">12</span> <span class="t">ก.พ.</span> 2013</div>
<div class="abs bar" style="left:523px;top:648.64px"></div>
<div class="abs ev" style="left:530.8px;top:647.74px">Shrove <span class="t">วันอังคาร</span></div>
<div class="abs ev" style="left:395.3px;top:660.21px"><span class="n">18</span> <span class="t">ก.พ.</span> 2013</div>
<div class="abs bar" style="left:523px;top:661.11px"></div>
<div class="abs ev" style="left:530.8px;top:660.21px">Daisy Gatson Bates Day</div>
<div class="abs ev" style="left:395.3px;top:672.68px"><span class="n">24</span> <span class="t">ก.พ.</span> 2013</div>
<div class="abs bar" style="left:523px;top:673.58px"></div>
<div class="abs ev" style="left:530.8px;top:672.68px"><span class="t">ปูริม</span></div>
<div class="abs ev" style="left:395.3px;top:685.15px">2 <span class="t">มี.ค.</span> 2013</div>
<div class="abs bar" style="left:523px;top:686.05px"></div>
<div class="abs ev" style="left:530.8px;top:685.15px"><span class="t">วันประกาศอิสรภาพของเท็กซัส</span></div>
<div class="abs ev" style="left:395.3px;top:697.62px">5 <span class="t">มี.ค.</span> 2013</div>
<div class="abs bar" style="left:523px;top:698.52px"></div>
<div class="abs ev" style="left:530.8px;top:697.62px"><span class="t">วันประชุมเมือง</span></div>
<div class="abs ev" style="left:729.3px;top:622.80px">9 <span class="t">มี.ค.</span> 2013</div>
<div class="abs bar" style="left:855px;top:623.70px"></div>
<div class="abs ev" style="left:863.0px;top:622.80px"><span class="t">มหาศิวราตรี</span></div>
<div class="abs ev" style="left:729.3px;top:635.27px"><span class="n">17</span> <span class="t">มี.ค.</span> 2013</div>
<div class="abs bar" style="left:855px;top:636.17px"></div>
<div class="abs ev" style="left:863.0px;top:635.27px"><span class="t">วันอพยพ</span></div>
<div class="abs ev" style="left:729.3px;top:647.74px"><span class="n">18</span> <span class="t">มี.ค.</span> 2013</div>
<div class="abs bar" style="left:855px;top:648.64px"></div>
<div class="abs ev" style="left:863.0px;top:647.74px"><span class="t">สังเกตวันอพยพ</span></div>
<div class="abs ev" style="left:729.3px;top:660.21px"><span class="n">25</span> <span class="t">มี.ค.</span> 2013</div>
<div class="abs bar" style="left:855px;top:661.11px"></div>
<div class="abs ev" style="left:863.0px;top:660.21px"><span class="t">วัน</span> Seward</div>
<div class="abs ev" style="left:729.3px;top:672.68px"><span class="n">26</span> <span class="t">มี.ค.</span> 2013</div>
<div class="abs bar" style="left:855px;top:673.58px"></div>
<div class="abs ev" style="left:863.0px;top:672.68px"><span class="t">เทศกาลปัสกา</span> (<span class="t">วันแรก</span>)</div>
<div class="abs ev" style="left:729.3px;top:685.15px"><span class="n">26</span> <span class="t">มี.ค.</span> 2013</div>
<div class="abs bar" style="left:855px;top:686.05px"></div>
<div class="abs ev" style="left:863.0px;top:685.15px"><span class="t">วัน</span> Prince Jonah Kuhio Kalanianaole</div>
<div class="abs ev" style="left:729.3px;top:697.62px"><span class="n">27</span> <span class="t">มี.ค.</span> 2013</div>
<div class="abs bar" style="left:855px;top:698.52px"></div>
<div class="abs ev" style="left:863.0px;top:697.62px"><span class="t">โฮลี</span></div>
</body></html>
